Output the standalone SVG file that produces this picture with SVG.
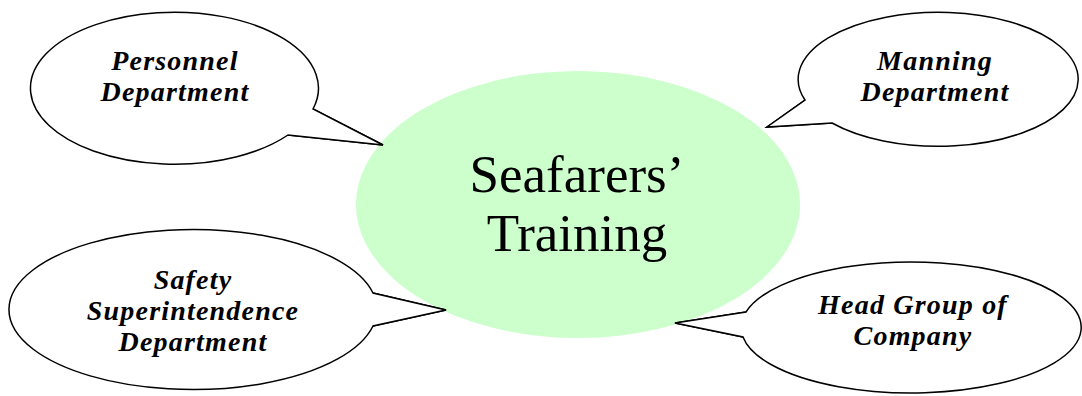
<svg xmlns="http://www.w3.org/2000/svg" width="1082" height="396" viewBox="0 0 1082 396">
  <style>
    .hub { fill: #ccffcc; stroke: none; }
    .hub-label { font-family: "Liberation Serif", "Times New Roman", serif; font-size: 53px; fill: #000; text-anchor: middle; }
    .bubble { fill: #ffffff; stroke: #000; stroke-width: 1.5; stroke-linejoin: miter; }
    .tail { fill: none; stroke: #000; stroke-width: 1.5; stroke-linejoin: miter; }
    .bubble-label { font-family: "Liberation Serif", "Times New Roman", serif; font-size: 28px; letter-spacing: 1.2px; font-weight: bold; font-style: italic; fill: #000; text-anchor: middle; }
  </style>
  <rect width="1082" height="396" fill="#ffffff"/>

  <!-- central topic -->
  <g id="seafarers-training">
    <ellipse class="hub" cx="578" cy="204.5" rx="222" ry="133.5"/>
    <text class="hub-label"><tspan x="577" y="192">Seafarers’</tspan><tspan x="577" y="251">Training</tspan></text>
  </g>

  <!-- speech-bubble tails pointing at the central topic -->
  <g id="connectors">
    <path class="tail" d="M313,109 L383,145 L288,135"/>
    <path class="tail" d="M805,100 L767,127 L832,123"/>
    <path class="tail" d="M373,293 L446,310 L373,326"/>
    <path class="tail" d="M746,312 L675,323 L743,337"/>
  </g>

  <g id="personnel-department">
    <path class="bubble" d="M313,109 A144,76 0 1 0 288,135 L383,145 Z"/>
    <text class="bubble-label"><tspan x="175" y="70">Personnel</tspan><tspan x="175" y="101">Department</tspan></text>
  </g>

  <g id="manning-department">
    <path class="bubble" d="M805,100 A140,67 0 1 1 832,123 L767,127 Z"/>
    <text class="bubble-label"><tspan x="935" y="70">Manning</tspan><tspan x="935" y="101">Department</tspan></text>
  </g>

  <g id="safety-superintendence-department">
    <path class="bubble" d="M373,293 A184,80 0 1 0 373,326 L446,310 Z"/>
    <text class="bubble-label"><tspan x="193" y="289">Safety</tspan><tspan x="193" y="320">Superintendence</tspan><tspan x="193" y="351">Department</tspan></text>
  </g>

  <g id="head-group-of-company">
    <path class="bubble" d="M746,312 A170,65.5 0 1 1 743,337 L675,323 Z"/>
    <text class="bubble-label"><tspan x="913" y="314">Head Group of</tspan><tspan x="913" y="345">Company</tspan></text>
  </g>
</svg>
